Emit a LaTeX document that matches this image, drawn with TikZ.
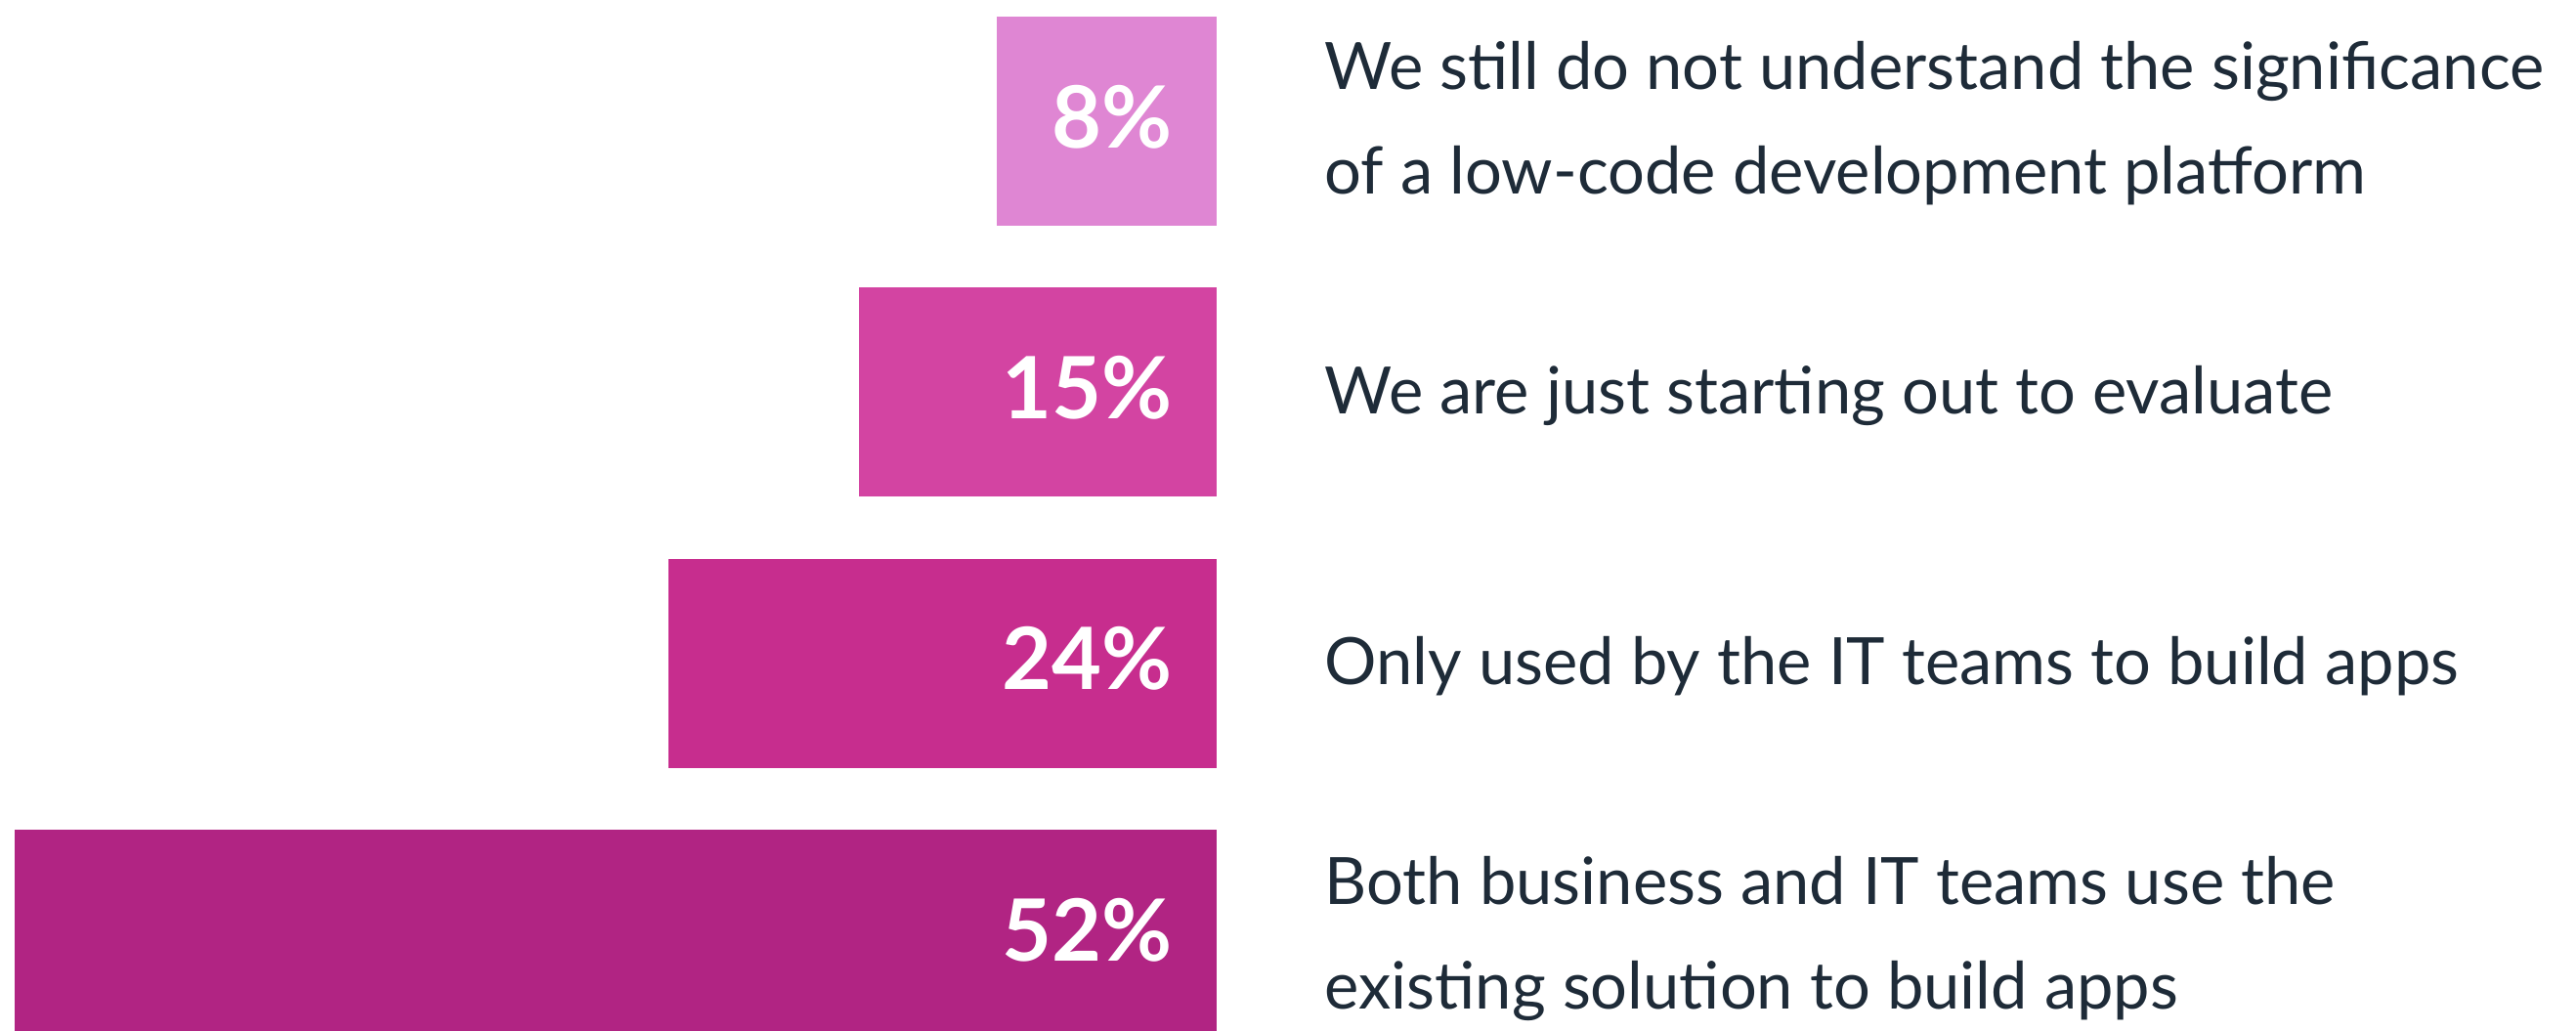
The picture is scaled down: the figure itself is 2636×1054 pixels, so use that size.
\documentclass[tikz,border=0pt]{standalone}
\usepackage{fontspec}
\setmainfont{Lato}
\definecolor{barlight}{HTML}{DF86D3}
\definecolor{barpink}{HTML}{D344A2}
\definecolor{barmagenta}{HTML}{C72D8E}
\definecolor{bardark}{HTML}{B12483}
\definecolor{ink}{HTML}{1E2B38}

\begin{document}
\begin{tikzpicture}[x=0.01cm,y=-0.01cm,
	bar/.style={rectangle,inner sep=0pt,minimum height=2.14cm,anchor=east},
	pct/.style={anchor=base east,inner sep=0pt,text=white,font=\fontsize{25}{30}\selectfont\bfseries},
	answer/.style={anchor=base west,inner sep=0pt,text=ink,align=left,font=\fontsize{19}{30.2}\selectfont}]
		\useasboundingbox (0,0) rectangle (2636,1054);
		% bars
		\node[bar,fill=barlight,minimum width=2.25cm] (b8) at (1246,124) {};
		\node[bar,fill=barpink,minimum width=3.66cm] (b15) at (1246,401) {};
		\node[bar,fill=barmagenta,minimum width=5.61cm] (b24) at (1246,679) {};
		\node[bar,fill=bardark,minimum width=12.30cm] (b52) at (1246,956) {};
		% percentages
		\node[pct] (p8) at (1200,151) {8\%};
		\node[pct] (p15) at (1200,428) {15\%};
		\node[pct] (p24) at (1200,705) {24\%};
		\node[pct] (p52) at (1200,983) {52\%};
		% answers (base = last line)
		\node[answer] (a8) at (1355,198) {We still do not understand the significance\\of a low-code development platform};
		\node[answer] (a15) at (1355,423) {We are just starting out to evaluate};
		\node[answer] (a24) at (1355,700) {Only used by the IT teams to build apps};
		\node[answer] (a52) at (1355,1032) {Both business and IT teams use the\\existing solution to build apps};
	\end{tikzpicture}
\end{document}
